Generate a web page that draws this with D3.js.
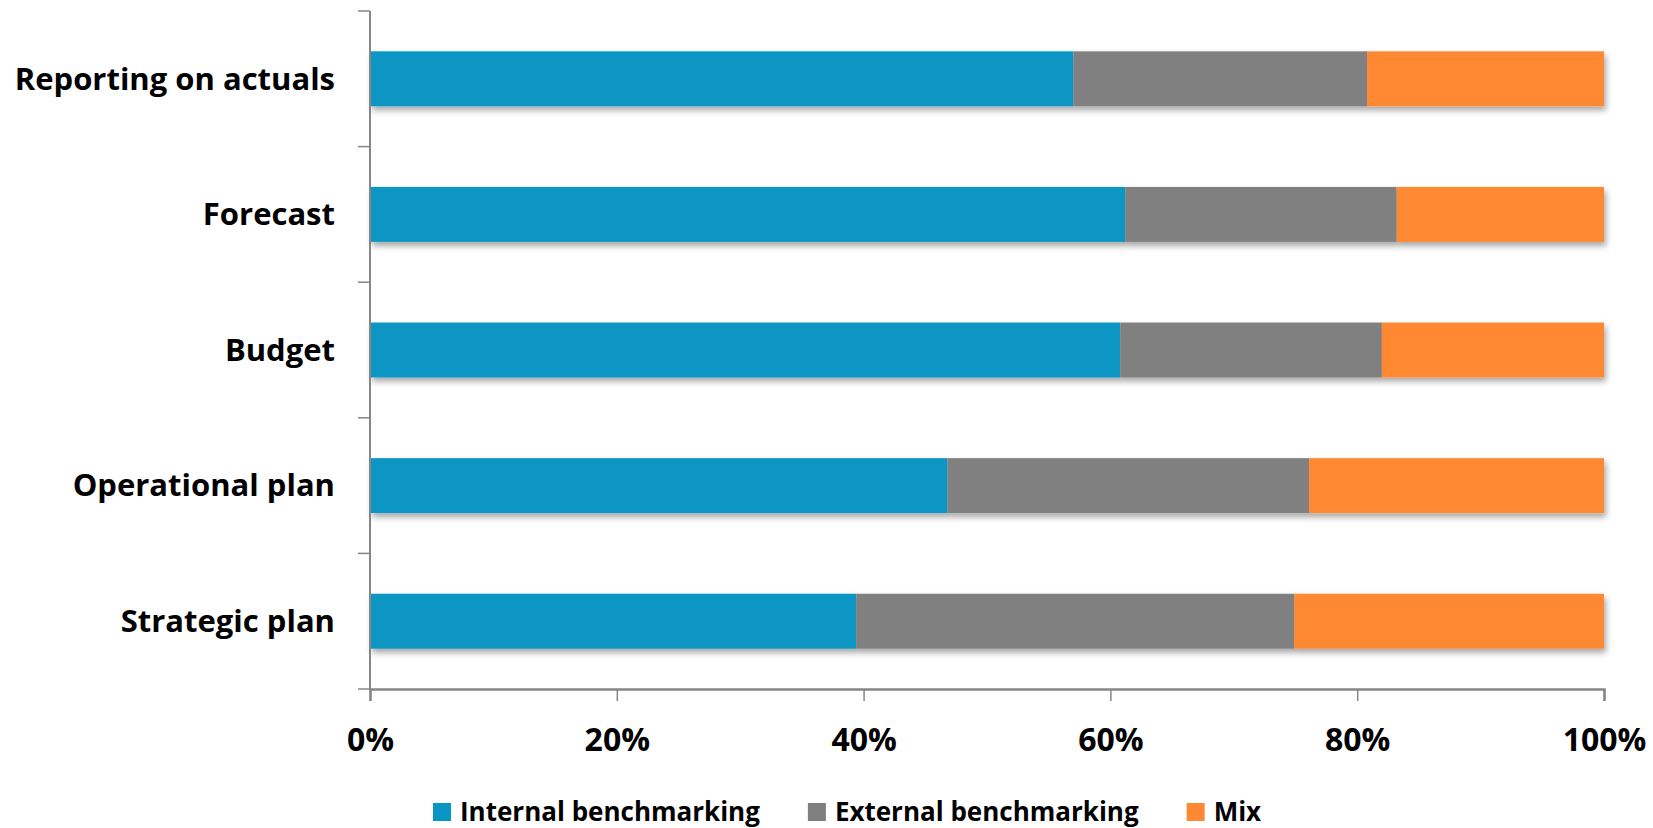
<!DOCTYPE html>
<html>
<head>
<meta charset="utf-8">
<script src="https://cdn.jsdelivr.net/npm/d3@7"></script>
<style>
  html, body { margin: 0; padding: 0; background: #fff; }
  svg { display: block; }
  text { font-family: "Open Sans", Lato, sans-serif; font-weight: bold; fill: #000; }
</style>
</head>
<body>
<svg id="chart" width="1653" height="828"></svg>
<script>
const categories = ["Reporting on actuals", "Forecast", "Budget", "Operational plan", "Strategic plan"];
const seriesNames = ["Internal benchmarking", "External benchmarking", "Mix"];
const internalVals = [57.0, 61.2, 60.8, 46.8, 39.4];
const externalVals = [23.8, 22.0, 21.2, 29.3, 35.5];
const mixVals      = [19.2, 16.8, 18.0, 23.9, 25.1];
const xTicks = [0, 0.2, 0.4, 0.6, 0.8, 1.0];
const colors = ["#0A96C4", "#808080", "#FF8833"];

const rows = categories.map((c, i) => ({
  cat: c,
  "Internal benchmarking": internalVals[i],
  "External benchmarking": externalVals[i],
  "Mix": mixVals[i]
}));
rows.forEach(r => {
  const t = seriesNames.reduce((s, k) => s + r[k], 0);
  seriesNames.forEach(k => r[k] = r[k] / t);
});

const svg = d3.select("#chart");
const mLeft = 370, mRight = 1604, mTop = 11, mBottom = 689;

const x = d3.scaleLinear().domain([0, 1]).range([mLeft, mRight]);
const y = d3.scaleBand().domain(categories).range([mTop, mBottom]).paddingInner(0.595).paddingOuter(0.2975);
const color = d3.scaleOrdinal().domain(seriesNames).range(colors);

const defs = svg.append("defs");
const f = defs.append("filter").attr("id", "shadow").attr("x", "-5%").attr("y", "-30%").attr("width", "110%").attr("height", "180%");
f.append("feDropShadow").attr("dx", 2).attr("dy", 4).attr("stdDeviation", 3).attr("flood-color", "#000").attr("flood-opacity", 0.35);

const stacked = d3.stack().keys(seriesNames)(rows);

const barsG = svg.append("g").attr("filter", "url(#shadow)");
stacked.forEach(s => {
  barsG.selectAll(null).data(s).join("rect")
    .attr("x", d => x(d[0]))
    .attr("y", d => y(d.data.cat))
    .attr("width", d => x(d[1]) - x(d[0]))
    .attr("height", y.bandwidth())
    .attr("fill", color(s.key));
});

const axisColor = "#868686";
svg.append("line").attr("x1", mLeft).attr("x2", mLeft).attr("y1", mTop).attr("y2", mBottom)
  .attr("stroke", axisColor).attr("stroke-width", 2);
const boundaries = d3.range(categories.length + 1).map(i => mTop + i * (mBottom - mTop) / categories.length);
svg.selectAll(null).data(boundaries).join("line")
  .attr("x1", mLeft - 12).attr("x2", mLeft).attr("y1", d => d).attr("y2", d => d)
  .attr("stroke", axisColor).attr("stroke-width", 1.5);

svg.selectAll(null).data(categories).join("text")
  .attr("x", 335)
  .attr("y", d => y(d) + y.bandwidth() / 2)
  .attr("dy", "0.35em")
  .attr("text-anchor", "end")
  .attr("font-size", 31)
  .text(d => d);

const xAxis = d3.axisBottom(x).tickValues(xTicks).tickFormat(d3.format(".0%")).tickSize(12);
const xg = svg.append("g").attr("transform", `translate(0,${mBottom})`).call(xAxis);
xg.select(".domain").attr("stroke", axisColor).attr("stroke-width", 2.5);
xg.selectAll(".tick line").attr("stroke", axisColor).attr("stroke-width", 1.5);
xg.selectAll(".tick text").attr("y", 51).attr("dy", "0.35em")
  .attr("font-size", 32).attr("font-family", "'Open Sans', sans-serif").attr("font-weight", "bold").attr("fill", "#000");

const legend = svg.append("g");
let lx = 433;
seriesNames.forEach((name, i) => {
  legend.append("rect").attr("x", lx).attr("y", 803).attr("width", 18).attr("height", 18).attr("fill", colors[i]);
  const t = legend.append("text").attr("x", lx + 27).attr("y", 812).attr("dy", "0.35em")
    .attr("font-size", 26).text(name);
  const w = t.node().getComputedTextLength();
  lx = lx + 27 + w + 48;
});
</script>
</body>
</html>
